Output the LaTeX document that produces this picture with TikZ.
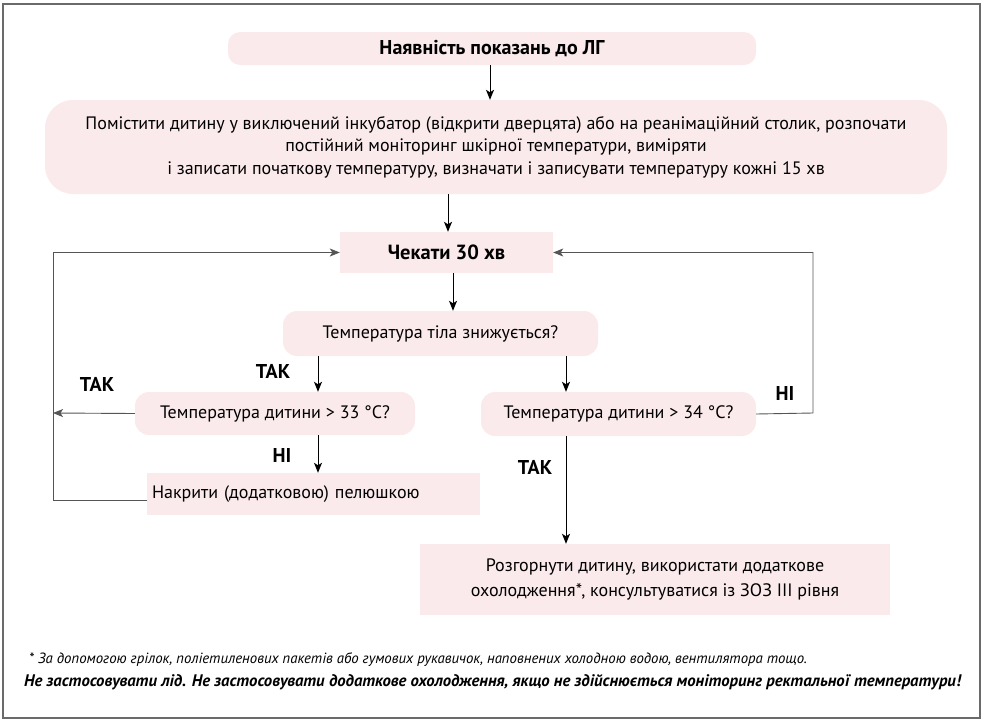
\documentclass[tikz,border=0pt]{standalone}
\usepackage{fontspec}
\setmainfont{PT Sans}
\usetikzlibrary{arrows.meta,calc}
\definecolor{boxpink}{HTML}{FBEAEC}
\definecolor{framegray}{HTML}{6A6A6A}
\definecolor{loopgray}{HTML}{555555}
\tikzset{
  pbox/.style={fill=boxpink,draw=none,inner sep=0pt,font=\fontsize{18}{22.5}\selectfont,align=center},
  rbox/.style={pbox,rounded corners=14pt},
  arr/.style={-{Stealth[length=10pt,width=8pt,inset=2.5pt]},line width=1pt,black},
  loopln/.style={line width=0.9pt,loopgray},
  looparr/.style={loopln,-{Stealth[length=10pt,width=8pt,inset=2.5pt]}},
  lbl/.style={font=\bfseries\fontsize{20}{22}\selectfont,inner sep=0pt},
}
\begin{document}
\begin{tikzpicture}[x=1pt,y=-1pt]
\useasboundingbox (0,0) rectangle (986,726);
\draw[framegray,line width=1.5pt] (3,4) rectangle (980,718);

\node[rbox,rounded corners=12pt,minimum width=528pt,minimum height=33pt,font=\bfseries\fontsize{20}{22}\selectfont] (b1) at (492,48.5) {Наявність показань до ЛГ};
\node[pbox,rounded corners=28pt,minimum width=902pt,minimum height=94pt] (b2) at (496,147)
 {Помістити дитину у виключений інкубатор (відкрити дверцята) або на реанімаційний столик, розпочати\\
  постійний моніторинг шкірної температури, виміряти\\
  і записати початкову температуру, визначати і записувати температуру кожні 15 хв};
\node[pbox,minimum width=213pt,minimum height=41pt,font=\bfseries\fontsize{20.5}{22}\selectfont] (b3) at (446.5,252.5) {Чекати 30 хв};
\node[rbox,minimum width=315pt,minimum height=45pt] (b4) at (440.5,333.5) {Температура тіла знижується?};
\node[rbox,minimum width=280pt,minimum height=43pt] (b5) at (275,413.5) {Температура дитини > 33 °C?};
\node[rbox,minimum width=275pt,minimum height=44pt] (b6) at (618.5,414) {Температура дитини > 34 °C?};
\node[pbox,minimum width=333pt,minimum height=42pt,text width=323pt,align=left] (b7) at (313.5,494) {Накрити (додатковою) пелюшкою};
\node[pbox,minimum width=470pt,minimum height=71pt,font=\fontsize{18}{25}\selectfont] (b8) at (655,579.5)
 {Розгорнути дитину, використати додаткове\\охолодження*, консультуватися із ЗОЗ III рівня};

\coordinate (xa) at (490,0);
\coordinate (xb) at (448,0);
\coordinate (xc) at (453,0);
\coordinate (xl) at (318,0);
\coordinate (xr) at (566,0);
\coordinate (lft) at (53,413);
\coordinate (lbot) at (53,500);
\coordinate (rtop) at (813,413);

\draw[arr] (b1.south -| xa) -- (b2.north -| xa);
\draw[arr] (b2.south -| xb) -- (b3.north -| xb);
\draw[arr] (b3.south -| xc) -- (b4.north -| xc);
\draw[arr] (b4.south -| xl) -- (b5.north -| xl);
\draw[arr] (b4.south -| xr) -- (b6.north -| xr);
\draw[arr] (b5.south -| xl) -- (b7.north -| xl);
\draw[arr] (b6.south -| xr) -- (b8.north -| xr);
\draw[looparr] (b5.west) -- (lft);
\draw[looparr] (b7.west |- lbot) -- (lbot) -- (lbot |- b3.west) -- (b3.west);
\draw[looparr] (b6.east) -- (rtop) -- (rtop |- b3.east) -- (b3.east);

\node[lbl] (t1) at (273,371) {ТАК};
\node[lbl] (t2) at (97,384) {ТАК};
\node[lbl] (n1) at (282,455) {НІ};
\node[lbl] (t3) at (535,467) {ТАК};
\node[lbl] (n2) at (785,393) {НІ};

\node[anchor=west,inner sep=0pt,font=\itshape\fontsize{14.8}{16}\selectfont] (f1) at (29,660)
 {* За допомогою грілок, поліетиленових пакетів або гумових рукавичок, наповнених холодною водою, вентилятора тощо.};
\node[anchor=west,inner sep=0pt,font=\bfseries\itshape\fontsize{16.7}{18}\selectfont] (f2) at (24,682)
 {Не застосовувати лід. Не застосовувати додаткове охолодження, якщо не здійснюється моніторинг ректальної температури!};
\end{tikzpicture}
\end{document}
